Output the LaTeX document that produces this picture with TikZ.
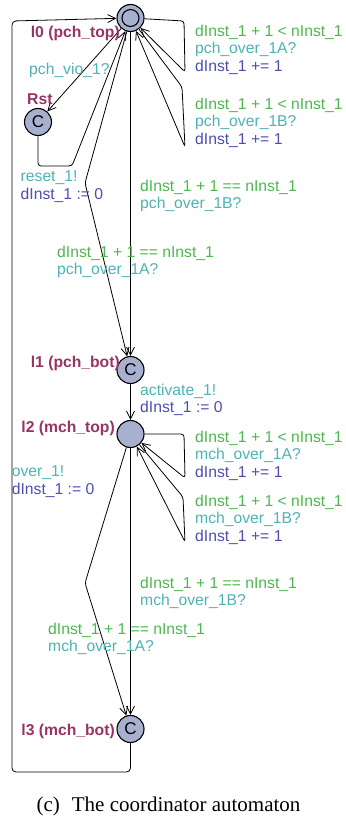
\documentclass[tikz,border=0pt]{standalone}
\usepackage{fontspec}
\setmainfont{Liberation Serif}
\setsansfont{Liberation Sans}
\usetikzlibrary{arrows.meta}
\definecolor{locname}{HTML}{993366}
\definecolor{guard}{HTML}{4CB84C}
\definecolor{sync}{HTML}{4DB3B3}
\definecolor{upd}{HTML}{4D4DB3}
\definecolor{locfill}{HTML}{A8B0D0}
\begin{document}
\begin{tikzpicture}[x=1pt,y=-1pt,
  loc/.style={circle,draw,line width=1.1pt,fill=locfill,minimum size=27pt,inner sep=0pt,font=\sffamily\fontsize{17}{17}\selectfont},
  lname/.style={inner sep=0pt,text=locname,font=\sffamily\bfseries\fontsize{15.7}{17.5}\selectfont},
  lab/.style={anchor=north west,inner sep=0pt,align=left,font=\sffamily\fontsize{15.7}{17.5}\selectfont},
  edge/.style={draw,line width=0.8pt,-{Straight Barb[length=8pt,width=8pt]},rounded corners=3pt},
]
\useasboundingbox (0,0) rectangle (345,818);

% locations
\node[loc] (l0) at (130.5,18) {};
\draw[line width=1.1pt] (l0.center) circle[radius=8.5pt];
\node[loc] (rst) at (38,122) {C};
\node[loc] (l1) at (130.5,370) {C};
\node[loc] (l2) at (130.5,434) {};
\node[loc] (l3) at (130.5,729) {C};

% nails
\coordinate (a0) at (184,21);
\coordinate (b0) at (185,72);
\coordinate (c0) at (182,87);
\coordinate (d0) at (185,147);
\coordinate (r1) at (38,166);
\coordinate (r2) at (72,166);
\coordinate (p1) at (85,183);
\coordinate (a2) at (184,434);
\coordinate (b2) at (185,478);
\coordinate (c2) at (183,497);
\coordinate (d2) at (185,542);
\coordinate (m1) at (85,583);
\coordinate (o1) at (130.5,772);
\coordinate (o2) at (12,772);
\coordinate (o3) at (12,21);

% edges
\draw[edge] (l0) -- (a0) -- (b0) -- (l0);
\draw[edge] (l0) -- (c0) -- (d0) -- (l0);
\draw[edge] (l0) -- (rst);
\draw[edge] (rst) -- (r1) -- (r2) -- (l0);
\draw[edge] (l0) -- (p1) -- (l1);
\draw[edge] (l0) -- (l1);
\draw[edge] (l1) -- (l2);
\draw[edge] (l2) -- (a2) -- (b2) -- (l2);
\draw[edge] (l2) -- (c2) -- (d2) -- (l2);
\draw[edge] (l2) -- (m1) -- (l3);
\draw[edge] (l2) -- (l3);
\draw[edge,rounded corners=4pt] (l3) -- (o1) -- (o2) -- (o3) -- (l0);

% location names
\node[lname,anchor=east] (n0) at (120,33) {l0 (pch\_top)};
\node[lname,anchor=west] (nr) at (27,99) {Rst};
\node[lname,anchor=east] (n1) at (120,363) {l1 (pch\_bot)};
\node[lname,anchor=east] (n2) at (115,428) {l2 (mch\_top)};
\node[lname,anchor=east] (n3) at (115,731) {l3 (mch\_bot)};

% edge labels
\node[lab] (t1) at (195,24.8) {\color{guard}dInst\_1 + 1 < nInst\_1\\\color{sync}pch\_over\_1A?\\\color{upd}dInst\_1 += 1};
\node[lab] (t2) at (195,97.8) {\color{guard}dInst\_1 + 1 < nInst\_1\\\color{sync}pch\_over\_1B?\\\color{upd}dInst\_1 += 1};
\node[lab] (t3) at (29,62.8) {\color{sync}pch\_vio\_1?};
\node[lab] (t4) at (20.5,170.8) {\color{sync}reset\_1!\\\color{upd}dInst\_1 := 0};
\node[lab] (t5) at (140,179.8) {\color{guard}dInst\_1 + 1 == nInst\_1\\\color{sync}pch\_over\_1B?};
\node[lab] (t6) at (57,245.8) {\color{guard}dInst\_1 + 1 == nInst\_1\\\color{sync}pch\_over\_1A?};
\node[lab] (t7) at (140,383.8) {\color{sync}activate\_1!\\\color{upd}dInst\_1 := 0};
\node[lab] (t8) at (195,430.8) {\color{guard}dInst\_1 + 1 < nInst\_1\\\color{sync}mch\_over\_1A?\\\color{upd}dInst\_1 += 1};
\node[lab] (t9) at (195,494.8) {\color{guard}dInst\_1 + 1 < nInst\_1\\\color{sync}mch\_over\_1B?\\\color{upd}dInst\_1 += 1};
\node[lab] (t10) at (11.7,465.8) {\color{sync}over\_1!\\\color{upd}dInst\_1 := 0};
\node[lab] (t11) at (140,576.8) {\color{guard}dInst\_1 + 1 == nInst\_1\\\color{sync}mch\_over\_1B?};
\node[lab] (t12) at (48,622.8) {\color{guard}dInst\_1 + 1 == nInst\_1\\\color{sync}mch\_over\_1A?};

% caption
\node[anchor=base,inner sep=0pt,font=\fontsize{21}{25}\selectfont] (cap) at (168.5,811.5) {(c)\hspace{12pt}The coordinator automaton};
\end{tikzpicture}
\end{document}
